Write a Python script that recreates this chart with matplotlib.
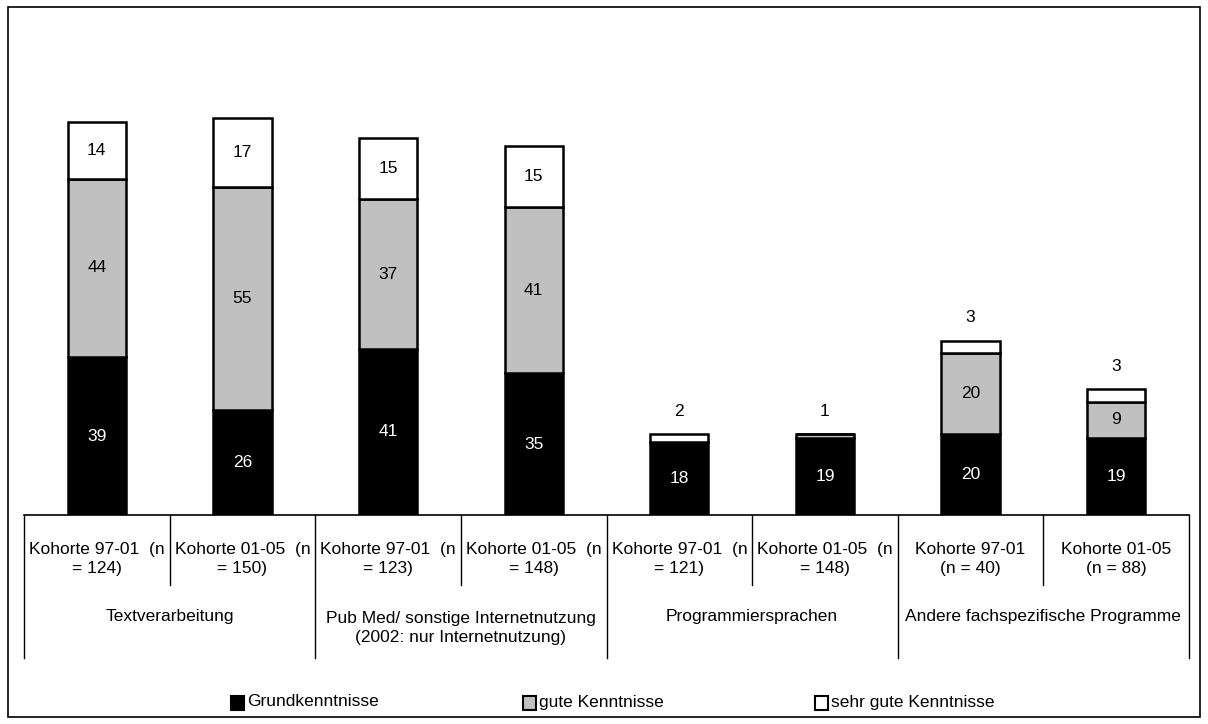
import matplotlib.pyplot as plt
import matplotlib.patches as mpatches
import matplotlib.transforms as mtransforms
import numpy as np

plt.rcParams['font.family'] = ['Liberation Sans Narrow', 'Liberation Sans', 'DejaVu Sans']

cohorts = ['Kohorte 97-01  (n\n= 124)', 'Kohorte 01-05  (n\n= 150)',
           'Kohorte 97-01  (n\n= 123)', 'Kohorte 01-05  (n\n= 148)',
           'Kohorte 97-01  (n\n= 121)', 'Kohorte 01-05  (n\n= 148)',
           'Kohorte 97-01\n(n = 40)', 'Kohorte 01-05\n(n = 88)']
groups = ['Textverarbeitung',
          'Pub Med/ sonstige Internetnutzung\n(2002: nur Internetnutzung)',
          'Programmiersprachen',
          'Andere fachspezifische Programme']
series = ['Grundkenntnisse', 'gute Kenntnisse', 'sehr gute Kenntnisse']
grund = [39, 26, 41, 35, 18, 19, 20, 19]
gute = [44, 55, 37, 41, 0, 1, 20, 9]
sehr_gut = [14, 17, 15, 15, 2, 0, 3, 3]

colors = ['#000000', '#c0c0c0', '#ffffff']
text_colors = ['white', 'black', 'black']
FS = 12.5

fig = plt.figure(figsize=(12.08, 7.24), dpi=100)
ax = fig.add_axes([24 / 1208, 209 / 724, 1165 / 1208, 486 / 724])

x = np.arange(len(cohorts))
bottom = np.zeros(len(cohorts))
for vals, col, tcol in zip([grund, gute, sehr_gut], colors, text_colors):
    vals = np.array(vals, dtype=float)
    ax.bar(x, vals, width=0.4, bottom=bottom, color=col, edgecolor='black', linewidth=1.8)
    for i, v in enumerate(vals):
        if v >= 5:
            ax.text(x[i], bottom[i] + v / 2, '%d' % v, ha='center', va='center',
                    color=tcol, fontsize=FS)
    bottom += vals

# small top segments labelled above the bar
small = [(4, sehr_gut[4]), (5, gute[5]), (6, sehr_gut[6]), (7, sehr_gut[7])]
for i, v in small:
    ax.text(x[i], bottom[i] + 3.8, '%d' % v, ha='center', va='bottom', fontsize=FS)

ax.set_xlim(-0.5, len(cohorts) - 0.5)
ax.set_ylim(0, 120)
for s in ['top', 'left', 'right']:
    ax.spines[s].set_visible(False)
ax.spines['bottom'].set_linewidth(1.2)
ax.set_xticks([])
ax.set_yticks([])

# category table below the axis
trans = mtransforms.blended_transform_factory(ax.transData, ax.transAxes)
for k in range(len(cohorts) + 1):
    xb = k - 0.5
    y_end = -0.294 if k % 2 == 0 else -0.144
    ax.plot([xb, xb], [0, y_end], color='black', lw=1, transform=trans, clip_on=False)
for i, lab in enumerate(cohorts):
    ax.text(x[i], -0.0905, lab, ha='center', va='center', fontsize=FS,
            linespacing=1.35, transform=trans)
for g, lab in enumerate(groups):
    ypos = -0.2325 if '\n' in lab else -0.208
    ax.text(2 * g + 0.5, ypos, lab, ha='center', va='center', fontsize=FS,
            linespacing=1.35, transform=trans)

# legend
W, H = 1208, 724
leg_x = [231, 523, 815]
for px, c, lab in zip(leg_x, colors, series):
    fig.patches.append(mpatches.Rectangle((px / W, (H - 710) / H), 13 / W, 14 / H,
                                          transform=fig.transFigure, facecolor=c,
                                          edgecolor='black', linewidth=1.5))
    fig.text((px + 16) / W, (H - 702) / H, lab, ha='left', va='center', fontsize=FS)

fig.patches.append(mpatches.Rectangle((8 / W, 7 / H), 1192 / W, 710 / H,
                                      transform=fig.transFigure, fill=False,
                                      edgecolor='black', linewidth=1.2))

fig.savefig('out.png', dpi=100)
